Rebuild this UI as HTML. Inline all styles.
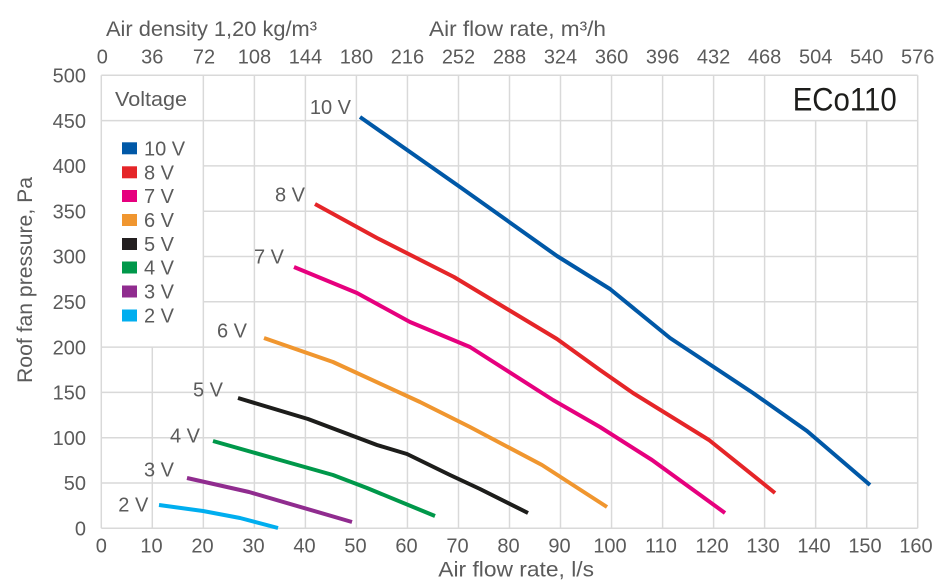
<!DOCTYPE html>
<html>
<head>
<meta charset="utf-8">
<style>
  html, body { margin: 0; padding: 0; background: #ffffff; }
  svg { display: block; }
  text { font-family: "Liberation Sans", "DejaVu Sans", sans-serif; fill: #5b5b5b; }
</style>
</head>
<body>
<svg width="949" height="587" viewBox="0 0 949 587" xmlns="http://www.w3.org/2000/svg">
  <rect x="0" y="0" width="949" height="587" fill="#ffffff"/>

  <!-- grid -->
  <g stroke="#d9d9d9" stroke-width="1.5" fill="none">
    <!-- vertical lines -->
    <line x1="101.3" y1="75.3" x2="101.3" y2="528.3"/>
    <line x1="152.3" y1="347.1" x2="152.3" y2="528.3"/>
    <line x1="203.35" y1="75.3" x2="203.35" y2="528.3"/>
    <line x1="254.4" y1="75.3" x2="254.4" y2="528.3"/>
    <line x1="305.4" y1="75.3" x2="305.4" y2="528.3"/>
    <line x1="356.4" y1="75.3" x2="356.4" y2="528.3"/>
    <line x1="407.45" y1="75.3" x2="407.45" y2="528.3"/>
    <line x1="458.5" y1="75.3" x2="458.5" y2="528.3"/>
    <line x1="509.5" y1="75.3" x2="509.5" y2="528.3"/>
    <line x1="560.5" y1="75.3" x2="560.5" y2="528.3"/>
    <line x1="611.55" y1="75.3" x2="611.55" y2="528.3"/>
    <line x1="662.6" y1="75.3" x2="662.6" y2="528.3"/>
    <line x1="713.6" y1="75.3" x2="713.6" y2="528.3"/>
    <line x1="764.6" y1="75.3" x2="764.6" y2="528.3"/>
    <line x1="815.65" y1="120.6" x2="815.65" y2="528.3"/>
    <line x1="866.7" y1="120.6" x2="866.7" y2="528.3"/>
    <line x1="917.7" y1="75.3" x2="917.7" y2="528.3"/>
    <!-- horizontal lines -->
    <line x1="101.3" y1="528.3" x2="917.7" y2="528.3"/>
    <line x1="101.3" y1="483.0" x2="917.7" y2="483.0"/>
    <line x1="101.3" y1="437.7" x2="917.7" y2="437.7"/>
    <line x1="101.3" y1="392.4" x2="917.7" y2="392.4"/>
    <line x1="101.3" y1="347.1" x2="917.7" y2="347.1"/>
    <line x1="203.35" y1="301.8" x2="917.7" y2="301.8"/>
    <line x1="203.35" y1="256.5" x2="917.7" y2="256.5"/>
    <line x1="203.35" y1="211.2" x2="917.7" y2="211.2"/>
    <line x1="203.35" y1="165.9" x2="917.7" y2="165.9"/>
    <line x1="101.3" y1="120.6" x2="917.7" y2="120.6"/>
    <line x1="101.3" y1="75.3" x2="917.7" y2="75.3"/>
  </g>

  <!-- curves -->
  <g fill="none" stroke-width="4" stroke-linejoin="round" stroke-linecap="butt">
    <polyline stroke="#0058a7" points="360,117 460,187 557,256 610,289 670,338 753,393 807,431 870,485"/>
    <polyline stroke="#e52528" points="315,204 377,238 454,277 557,339 600,370 633,393 709,440 775,493"/>
    <polyline stroke="#e6007e" points="294,267 357,293 410,322 470,347 553,400 600,427 652,460 725,513"/>
    <polyline stroke="#f0962f" points="264,338 333,362 420,402 470,427 542,465 607,507"/>
    <polyline stroke="#1d1d1b" points="238,398 308,419 377,445 407,454 450,475 480,489 528,513"/>
    <polyline stroke="#00984a" points="213,441 287,462 333,475 367,488 435,516"/>
    <polyline stroke="#902c8f" points="187,478 249,492 352,522"/>
    <polyline stroke="#00aeef" points="159,505 203,511 240,518 278,528"/>
  </g>

  <!-- curve labels -->
  <g font-size="20" text-anchor="end">
    <text x="351" y="114">10 V</text>
    <text x="305" y="201.5">8 V</text>
    <text x="284" y="263.5">7 V</text>
    <text x="247" y="337.7">6 V</text>
    <text x="223" y="396.7">5 V</text>
    <text x="200" y="442.3">4 V</text>
    <text x="174" y="476.7">3 V</text>
    <text x="148.3" y="511.5">2 V</text>
  </g>

  <!-- legend -->
  <text x="115" y="106" font-size="20" textLength="72" lengthAdjust="spacingAndGlyphs">Voltage</text>
  <g>
    <rect x="122" y="142.3" width="15" height="12" fill="#0058a7"/>
    <rect x="122" y="166.3" width="15" height="12" fill="#e52528"/>
    <rect x="122" y="190" width="15" height="12" fill="#e6007e"/>
    <rect x="122" y="214" width="15" height="12" fill="#f0962f"/>
    <rect x="122" y="238" width="15" height="12" fill="#231f20"/>
    <rect x="122" y="261.5" width="15" height="12" fill="#00984a"/>
    <rect x="122" y="285.5" width="15" height="12" fill="#902c8f"/>
    <rect x="122" y="309.5" width="15" height="12" fill="#00aeef"/>
  </g>
  <g font-size="20">
    <text x="144" y="155.3">10 V</text>
    <text x="144" y="179.3">8 V</text>
    <text x="144" y="203">7 V</text>
    <text x="144" y="227">6 V</text>
    <text x="144" y="251">5 V</text>
    <text x="144" y="274.5">4 V</text>
    <text x="144" y="298.5">3 V</text>
    <text x="144" y="322.5">2 V</text>
  </g>

  <!-- ECo110 -->
  <text x="792.7" y="110.7" font-size="32" textLength="104" lengthAdjust="spacingAndGlyphs" style="fill:#1d1d1b">ECo110</text>

  <!-- Y tick labels -->
  <g font-size="20" text-anchor="end">
    <text x="86" y="82.5">500</text>
    <text x="86" y="127.8">450</text>
    <text x="86" y="173.1">400</text>
    <text x="86" y="218.4">350</text>
    <text x="86" y="263.7">300</text>
    <text x="86" y="309">250</text>
    <text x="86" y="354.3">200</text>
    <text x="86" y="399.6">150</text>
    <text x="86" y="444.9">100</text>
    <text x="86" y="490.2">50</text>
    <text x="86" y="535.5">0</text>
  </g>

  <!-- bottom tick labels -->
  <g font-size="20" text-anchor="middle">
    <text x="101.3" y="552.7">0</text>
    <text x="151.5" y="552.7">10</text>
    <text x="202.5" y="552.7">20</text>
    <text x="253.5" y="552.7">30</text>
    <text x="304.5" y="552.7">40</text>
    <text x="355.5" y="552.7">50</text>
    <text x="406.5" y="552.7">60</text>
    <text x="457.5" y="552.7">70</text>
    <text x="508.5" y="552.7">80</text>
    <text x="559.5" y="552.7">90</text>
    <text x="610" y="552.7">100</text>
    <text x="661" y="552.7">110</text>
    <text x="712" y="552.7">120</text>
    <text x="763" y="552.7">130</text>
    <text x="814" y="552.7">140</text>
    <text x="865" y="552.7">150</text>
    <text x="916" y="552.7">160</text>
  </g>

  <!-- top tick labels -->
  <g font-size="20" text-anchor="middle">
    <text x="102.3" y="63.3">0</text>
    <text x="152.3" y="63.3">36</text>
    <text x="204" y="63.3">72</text>
    <text x="254.4" y="63.3">108</text>
    <text x="305.4" y="63.3">144</text>
    <text x="356.4" y="63.3">180</text>
    <text x="407.45" y="63.3">216</text>
    <text x="458.5" y="63.3">252</text>
    <text x="509.5" y="63.3">288</text>
    <text x="560.5" y="63.3">324</text>
    <text x="611.55" y="63.3">360</text>
    <text x="662.6" y="63.3">396</text>
    <text x="713.6" y="63.3">432</text>
    <text x="764.6" y="63.3">468</text>
    <text x="815.65" y="63.3">504</text>
    <text x="866.7" y="63.3">540</text>
    <text x="917.7" y="63.3">576</text>
  </g>

  <!-- axis titles -->
  <text x="106" y="36" font-size="21" textLength="211" lengthAdjust="spacingAndGlyphs">Air density 1,20 kg/m³</text>
  <text x="429" y="36" font-size="21" textLength="177" lengthAdjust="spacingAndGlyphs">Air flow rate, m³/h</text>
  <text x="438.3" y="576.7" font-size="21" textLength="155.7" lengthAdjust="spacingAndGlyphs">Air flow rate, l/s</text>
  <text transform="translate(32,280) rotate(-90)" text-anchor="middle" font-size="21" textLength="206" lengthAdjust="spacingAndGlyphs">Roof fan pressure, Pa</text>
</svg>
</body>
</html>
